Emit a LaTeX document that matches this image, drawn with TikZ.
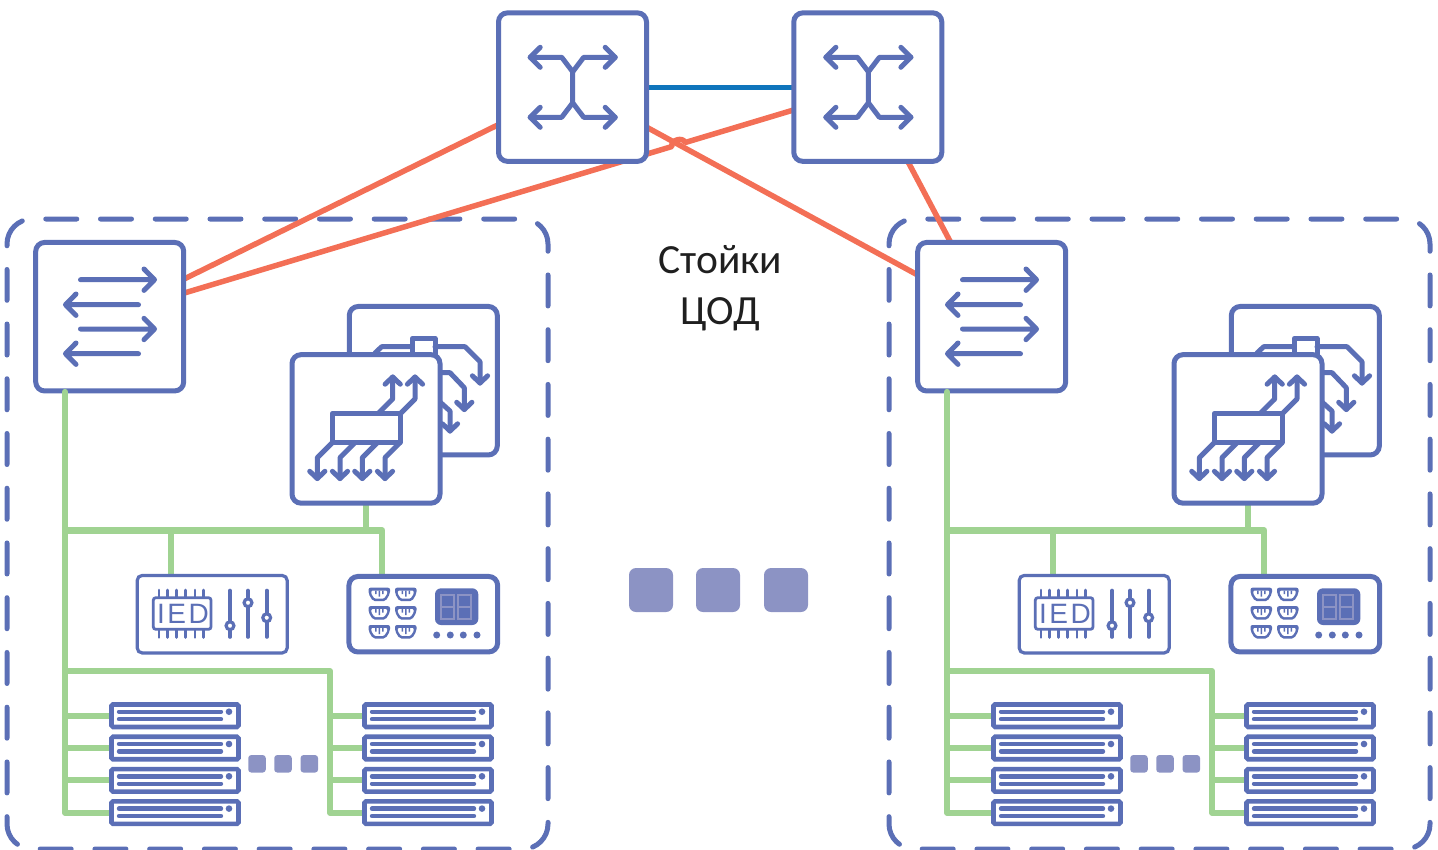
\documentclass[tikz,border=0pt]{standalone}
\usepackage{fontspec}
\setmainfont{Liberation Sans}
\newfontfamily\labelfont{Carlito}
\usetikzlibrary{calc}
\pgfdeclarelayer{framelayer}
\pgfdeclarelayer{wirelayer}
\pgfsetlayers{framelayer,wirelayer,main}
\definecolor{iconblue}{HTML}{5B6FB6}
\definecolor{dotblue}{HTML}{8C93C4}
\definecolor{linkorange}{HTML}{F36F56}
\definecolor{linkblue}{HTML}{0F75BC}
\definecolor{linkgreen}{HTML}{A0D392}
\tikzset{
  x=1pt,y=-1pt,
  iconbox/.style={draw=iconblue,line width=5pt,fill=white,rounded corners=9pt,minimum width=148pt,minimum height=148.5pt,inner sep=0pt,outer sep=0pt},
  devbox/.style={draw=iconblue,fill=white,inner sep=0pt,outer sep=0pt},
  srvbox/.style={draw=iconblue,line width=4.6pt,fill=white,rounded corners=1.5pt,minimum width=127pt,minimum height=22.5pt,inner sep=0pt,outer sep=0pt},
  glyph/.style={draw=iconblue,line width=5pt,line cap=round,line join=round},
  thinglyph/.style={draw=iconblue,line width=3.6pt,line cap=round,line join=round},
  rackframe/.style={draw=iconblue,line width=5pt,line cap=round,dash pattern=on 31pt off 23.74pt,dash phase=25.5pt,rounded corners=25pt},
  orangewire/.style={draw=linkorange,line width=5.5pt},
  greenwire/.style={draw=linkgreen,line width=6.2pt,line join=round},
  moredot/.style={fill=dotblue,rounded corners=3pt,minimum size=17.5pt,inner sep=0pt,outer sep=0pt},
  moredotbig/.style={fill=dotblue,rounded corners=7pt,minimum size=44pt,inner sep=0pt,outer sep=0pt},
}
% two-way fork icon of a core switch, about the given centre
\newcommand{\forkicon}[2]{%
  \begin{scope}[shift={(#1,#2)}]
    \draw[glyph] (-42.5,-30)--(-11,-30)--(0,-15.5)--(0,15.5)--(-11,30)--(-42.5,30);
    \draw[glyph] (42.5,-30)--(11,-30)--(0,-15.5);
    \draw[glyph] (42.5,30)--(11,30)--(0,15.5);
    \foreach \yy in {-30,30}{
      \draw[glyph] (-32.5,\yy-10)--(-42.5,\yy)--(-32.5,\yy+10);
      \draw[glyph] (32.5,\yy-10)--(42.5,\yy)--(32.5,\yy+10);
    }
  \end{scope}}
\newcommand{\downhead}[2]{\draw[glyph] (#1-7.6,#2-7.2)--(#1,#2)--(#1+7.6,#2-7.2);}
\newcommand{\uphead}[2]{\draw[glyph] (#1-7.6,#2+7.2)--(#1,#2)--(#1+7.6,#2+7.2);}
% one outlet of the power unit
\newcommand{\outlet}[2]{%
  \begin{scope}[shift={(#1,#2)}]
    \fill[iconblue,rounded corners=2pt] (0,0)--(21.5,0)--(21.5,6)--(17,13.5)--(4.5,13.5)--(0,6)--cycle;
    \fill[white,rounded corners=1pt] (2.8,3)--(18.7,3)--(18.7,6)--(15.5,10.8)--(6,10.8)--(2.8,6)--cycle;
    \fill[iconblue] (6.5,3) rectangle (8,6.5) (10,3) rectangle (11.5,9) (13.5,3) rectangle (15,6.5);
  \end{scope}}
% a seven-segment digit
\newcommand{\segdigit}[1]{%
  \begin{scope}[shift={(#1,0)}]
    \draw[dotblue,line width=1.5pt,line join=miter] (0,595) rectangle (13,619) (0,607)--(13,607);
  \end{scope}}
% one server
\newcommand{\srv}[3]{%
  \node[srvbox] (#1) at (#2,#3) {};
  \draw[iconblue,line width=4.4pt,line cap=round] (#2-56,#3-4)--(#2+46,#3-4) (#2-56,#3+3.4)--(#2+46,#3+3.4);
  \fill[iconblue] (#2+54,#3-4) circle (3.3);}
% a whole rack: #1 name prefix, #2 horizontal shift
\newcommand{\rack}[2]{%
\begin{scope}[xshift=#2pt]
  \begin{pgfonlayer}{framelayer}
    \draw[rackframe] (7,300)--(7,219)--(548,219)--(548,849)--(7,849)--cycle;
  \end{pgfonlayer}
  % leaf switch
  \node[iconbox] (#1leaf) at (109.7,316.7) {};
  \draw[glyph] (80.5,279.7)--(154.5,279.7) (144,269)--(154.5,279.7)--(144,290.4);
  \draw[glyph] (65.5,304.7)--(138.5,304.7) (76,294)--(65.5,304.7)--(76,315.4);
  \draw[glyph] (80.5,329)--(154.5,329) (144,318.3)--(154.5,329)--(144,339.7);
  \draw[glyph] (65.5,353.7)--(138.5,353.7) (76,343)--(65.5,353.7)--(76,364.4);
  % rear router
  \node[iconbox] (#1rear) at (423.3,380.7) {};
  \draw[glyph,fill=white] (412.3,338.5) rectangle (435,360);
  \draw[glyph] (375,353)--(381.7,346.7)--(412.3,346.7) (435,346.7)--(465,346.7)--(480,361.7)--(480,383);
  \downhead{480}{383}
  \draw[glyph] (440,372.7)--(450,372.7)--(464.3,387.7)--(464.3,409.5);
  \downhead{464.3}{409.5}
  \draw[glyph] (440,402)--(450,411)--(450,431);
  \downhead{450}{431}
  % front router
  \node[iconbox] (#1front) at (366,428.9) {};
  \draw[glyph] (332.3,413.3) rectangle (400,442.7);
  \foreach \xa/\xb in {332.3/317.3,355/340,377.3/362.3,400/385}{
    \draw[glyph] (\xa,442.7)--(\xb,457.7)--(\xb,478.5);
    \downhead{\xb}{478.5}
  }
  \foreach \xa/\xb in {378.3/392.7,400.7/415}{
    \draw[glyph] (\xa,413.3)--(\xb,399)--(\xb,377);
    \uphead{\xb}{377}
  }
  % IED device
  \node[devbox,line width=3.2pt,rounded corners=5pt,minimum width=150pt,minimum height=77.5pt] (#1ied) at (212.2,614.2) {};
  \draw[iconblue,line width=2.8pt,rounded corners=2.5pt] (153.3,597.7) rectangle (211,629.3);
  \foreach \xx in {159,167.7,176.7,185.7,195,203.7}{
    \draw[iconblue,line width=2.6pt,line cap=round] (\xx,590)--(\xx,597) (\xx,630)--(\xx,637.5);
  }
  \node[inner sep=0pt,text=iconblue,font=\fontsize{28}{28}\selectfont\addfontfeature{LetterSpace=9}] (#1iedtext) at (183,613.5) {IED};
  \foreach \xx/\yy in {230/625.7,248/602.7,266.7/617.7}{
    \draw[thinglyph] (\xx,590.5)--(\xx,637);
    \draw[iconblue,line width=3.2pt,fill=white] (\xx,\yy) circle (3.9);
  }
  % power unit
  \node[devbox,line width=5pt,rounded corners=9pt,minimum width=148.7pt,minimum height=75.5pt] (#1plc) at (423.3,614.2) {};
  \foreach \xx in {368.5,395}{\foreach \yy in {587.7,606.2,625}{\outlet{\xx}{\yy}}}
  \fill[iconblue,rounded corners=6pt] (435,588.3) rectangle (478.3,625);
  \segdigit{441}\segdigit{458}
  \foreach \xx in {436.7,450.3,463.3,477}{\fill[iconblue] (\xx,635) circle (3.5);}
  % servers
  \foreach \nn/\yy in {1/715.7,2/748,3/780.3,4/812.6}{
    \srv{#1a\nn}{175}{\yy}
    \srv{#1b\nn}{428}{\yy}
  }
  \node[moredot] (#1d1) at (257,763.8) {};
  \node[moredot] (#1d2) at (283,763.8) {};
  \node[moredot] (#1d3) at (309.3,763.8) {};
  % wires
  \begin{pgfonlayer}{wirelayer}
    \coordinate (#1trunk) at ([xshift=-44.7pt]#1leaf.south);
    \coordinate (#1busa) at (65,530.5);
    \coordinate (#1busb) at (65,671);
    \coordinate (#1trunkb) at (330,671);
    \draw[greenwire] (#1trunk)--(#1trunk |- #1a4.west)--(#1a4.west);
    \foreach \nn in {1,2,3}{\draw[greenwire] (#1trunk |- #1a\nn.west)--(#1a\nn.west);}
    \draw[greenwire] (#1busa)-|([xshift=-41pt]#1plc.north);
    \draw[greenwire] (#1front.south)--(#1front.south |- #1busa);
    \draw[greenwire] ([xshift=-41pt]#1ied.north)--([xshift=-41pt]#1ied.north |- #1busa);
    \draw[greenwire] (#1busb)--(#1trunkb)--(#1trunkb |- #1b4.west)--(#1b4.west);
    \foreach \nn in {1,2,3}{\draw[greenwire] (#1trunkb |- #1b\nn.west)--(#1b\nn.west);}
  \end{pgfonlayer}
  \draw[greenwire,line cap=round] ([yshift=-1pt]#1trunk)--([yshift=-8pt]#1trunk);
\end{scope}}
\begin{document}
\begin{tikzpicture}
\useasboundingbox (0,0) rectangle (1438,849);
\node[iconbox] (coreA) at (572.5,87.1) {};
\node[iconbox] (coreB) at (867.8,87.1) {};
\forkicon{572.7}{87.3}
\forkicon{868.4}{87.3}
\rack{L}{0}
\rack{R}{882}
\begin{pgfonlayer}{wirelayer}
  \draw[linkblue,line width=5.5pt] (coreA.east |- 0,87.5)--(coreB.west |- 0,87.5);
  \draw[orangewire] ([yshift=-37.5pt]coreA.west)--([yshift=37.5pt]Lleaf.east);
  \coordinate (hopA) at ([yshift=-22.8pt]coreB.west);
  \coordinate (hopB) at ([yshift=23.5pt]Lleaf.east);
  \draw[orangewire,line join=round] (hopA)--($(hopA)!0.178!(hopB)$) to[bend right=85,looseness=1.2] ($(hopA)!0.2!(hopB)$)--(hopB);
  \draw[orangewire] ([yshift=-40pt]coreA.east)--([yshift=41.7pt]Rleaf.west);
  \draw[orangewire] ([xshift=40pt]coreB.south)--([xshift=-41pt]Rleaf.north);
\end{pgfonlayer}
\node[inner sep=0pt,text=black!88,align=center,font=\labelfont\fontsize{41.5}{51}\selectfont] (caption) at (720.5,288) {Стойки\\ЦОД};
\node[moredotbig] (big1) at (651,590) {};
\node[moredotbig] (big2) at (718,590) {};
\node[moredotbig] (big3) at (786,590) {};
\end{tikzpicture}
\end{document}
